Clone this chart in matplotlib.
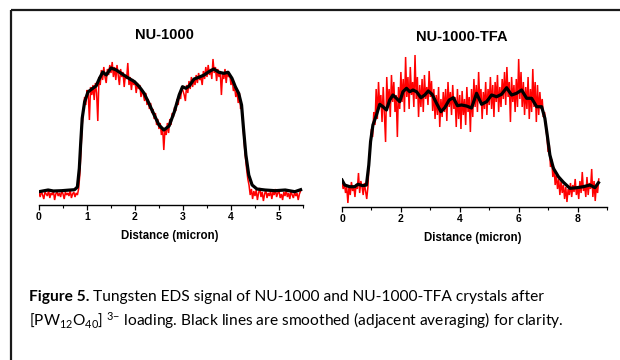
import numpy as np
import matplotlib
matplotlib.use("Agg")
import matplotlib.pyplot as plt
from matplotlib.lines import Line2D
from matplotlib.ticker import MultipleLocator

# ---------------- data (signal in arbitrary units) ----------------
titles = ["NU-1000", "NU-1000-TFA"]
x_label = "Distance (micron)"
left_ticks = [0, 1, 2, 3, 4, 5]
right_ticks = [0, 2, 4, 6, 8]

left_step = 0.025  # micron between raw EDS samples
left_red = [
    12, 8, 14, 10, 6, 13, 11, 9, 15, 7, 12, 10, 14, 5, 11, 13, 9, 12, 8, 14,
    11, 6, 13, 10, 12, 9, 15, 7, 11, 13, 8, 12, 10, 16, 30, 55, 80, 95, 108, 100,
    115, 112, 85, 118, 110, 120, 105, 122, 112, 84, 128, 120, 135, 125, 138, 128, 122, 136, 130, 140,
    132, 143, 128, 138, 125, 140, 130, 120, 136, 128, 133, 118, 130, 126, 142, 120, 128, 115, 126, 120,
    124, 112, 122, 116, 120, 108, 116, 110, 104, 112, 100, 106, 96, 102, 92, 96, 86, 92, 80, 86,
    76, 82, 70, 78, 55, 76, 70, 82, 72, 86, 80, 92, 88, 98, 94, 106, 100, 112, 106, 118,
    114, 110, 104, 120, 112, 124, 116, 128, 118, 126, 120, 130, 122, 132, 125, 128, 120, 134, 126, 138,
    128, 140, 130, 136, 126, 146, 132, 138, 124, 136, 128, 134, 110, 132, 126, 136, 122, 134, 128, 130,
    120, 126, 114, 118, 108, 114, 102, 112, 96, 100, 80, 62, 48, 36, 26, 20, 10, 16, 6, 14,
    9, 15, 5, 12, 17, 8, 13, 4, 11, 15, 7, 12, 9, 14, 6, 13, 10, 16, 8, 12,
    14, 7, 11, 5, 13, 9, 15, 8, 12, 6, 14, 10, 7, 13, 9, 12, 5, 11, 14,
]
left_black_x = [0, 0.1, 0.19, 0.3, 0.47, 0.6, 0.74, 0.80, 0.84, 0.87, 0.90, 0.95, 1.02, 1.12, 1.19,
                1.26, 1.33, 1.40, 1.50, 1.61, 1.71, 1.85, 1.99, 2.09, 2.19, 2.29, 2.40, 2.50,
                2.60, 2.71, 2.82, 2.92, 2.99, 3.06, 3.13, 3.23, 3.33, 3.44, 3.54, 3.64, 3.75,
                3.85, 3.94, 4.02, 4.09, 4.16, 4.22, 4.26, 4.31, 4.37, 4.44, 4.54, 4.71, 4.92,
                5.13, 5.33, 5.45]
left_black_y = [13.3, 14.2, 15, 14, 14.3, 14.8, 15.3, 18, 36.7, 63, 86.7, 103, 113, 116.7, 119,
                126.7, 133, 130, 137, 135, 131.7, 127.3, 123.3, 118.3, 111.7, 101.7, 90, 80,
                75, 79, 93.3, 110, 118.3, 116.7, 119, 126, 127.7, 130, 133.3, 136, 132.7,
                131.7, 132.7, 126.7, 118.3, 111.7, 100, 76.7, 50, 30, 20, 16, 15, 14.3,
                15, 13.3, 15.3]

right_step = 0.04
right_red = [
    26, 18, 24, 14, 20, 4, 22, 12, 25, 16, 21, 10, 23, 18, 34, 14, 26, 20, 12, 24, 16, 8, 20, 45, 62,
    78, 70, 95, 82, 118, 88, 125, 100, 112, 85, 120, 92, 65, 130, 100, 118, 90, 132, 105, 125, 95, 112, 70, 120, 98,
    135, 105, 128, 95, 150, 110, 130, 98, 140, 112, 125, 100, 152, 108, 130, 90, 122, 100, 128, 95, 132, 108, 120, 102, 136,
    110, 126, 96, 118, 88, 112, 92, 120, 80, 108, 90, 115, 95, 118, 86, 125, 100, 115, 92, 122, 98, 110, 80, 118, 88,
    112, 78, 116, 92, 108, 82, 120, 95, 110, 75, 118, 90, 128, 100, 122, 95, 135, 105, 118, 88, 115, 98, 125, 92, 118,
    102, 130, 98, 122, 90, 125, 105, 132, 95, 120, 100, 128, 108, 135, 102, 140, 110, 125, 85, 130, 105, 122, 95, 128, 100,
    148, 108, 135, 100, 125, 92, 120, 98, 130, 88, 118, 95, 138, 100, 125, 85, 122, 92, 115, 98, 108, 90, 95, 80, 70,
    55, 62, 40, 48, 30, 40, 22, 32, 18, 28, 12, 26, 14, 22, 8, 20, 5, 18, 12, 24, 10, 22, 15, 28, 12,
    20, 8, 26, 14, 35, 16, 22, 10, 30, 12, 24, 18, 38, 10, 26, 6, 22, 14, 28,
]
right_black_x = [0, 0.09, 0.26, 0.43, 0.54, 0.71, 0.83, 0.91, 0.97, 1.05, 1.17, 1.28, 1.39, 1.51,
                 1.62, 1.73, 1.85, 1.96, 2.07, 2.19, 2.30, 2.41, 2.53, 2.68, 2.81, 2.93, 3.06,
                 3.21, 3.36, 3.49, 3.64, 3.78, 3.92, 4.06, 4.23, 4.40, 4.57, 4.74, 4.91, 5.08,
                 5.25, 5.42, 5.59, 5.76, 5.93, 6.10, 6.27, 6.44, 6.61, 6.78, 6.89, 6.97, 7.06,
                 7.18, 7.35, 7.52, 7.74, 7.97, 8.20, 8.42, 8.59, 8.71]
right_black_y = [27, 22, 20.3, 20.3, 22.7, 21.3, 22, 42, 65.3, 82, 92, 102.7, 100.3, 97,
                 107, 112, 108.7, 105.3, 115.3, 118.7, 115.3, 117, 115.3, 109.3, 112, 116, 112.7,
                 103.7, 95.3, 99.3, 107, 109.3, 101.3, 102, 101, 99, 113.7, 102.7, 105.3, 112,
                 110.3, 112.7, 119.3, 112, 113.7, 117, 108.7, 108.7, 100.3, 100.3, 88.7, 72, 52,
                 38.7, 30.3, 24.7, 18.7, 19.3, 20.3, 22, 19.3, 24.3]

caption_bold = "Figure 5."
caption_rest = " Tungsten EDS signal of NU-1000 and NU-1000-TFA crystals after"
caption_line2 = r"[PW$_{12}$O$_{40}$] $^{3{-}}$ loading. Black lines are smoothed (adjacent averaging) for clarity."

# ---------------- figure ----------------
plt.rcParams['font.family'] = ['Liberation Sans', 'DejaVu Sans']
plt.rcParams['mathtext.default'] = 'regular'

W, H = 620, 360
fig = plt.figure(figsize=(W / 100, H / 100), dpi=100)
fig.patch.set_facecolor('white')


def fx(px):
    return px / W


def fy(py):
    return 1 - py / H


x_left = np.arange(len(left_red)) * left_step
x_right = np.arange(len(right_red)) * right_step

axL = fig.add_axes([fx(39), fy(205), (303 - 39) / W, 150 / H])
axR = fig.add_axes([fx(342), fy(207), (607 - 342) / W, 160 / H])

axL.plot(x_left, left_red, color='#ff0000', lw=1.1, solid_joinstyle='miter')
axL.plot(left_black_x, left_black_y, color='black', lw=2.3, solid_joinstyle='round')
axL.set_xlim(0, 5.5)
axL.set_ylim(0, 150)
axL.set_xticks(left_ticks)
axL.xaxis.set_minor_locator(MultipleLocator(0.5))

axR.plot(x_right, right_red, color='#ff0000', lw=1.1, solid_joinstyle='miter')
axR.plot(right_black_x, right_black_y, color='black', lw=2.3, solid_joinstyle='round')
axR.set_xlim(0, 9.0)
axR.set_ylim(0, 160)
axR.set_xticks(right_ticks)
axR.xaxis.set_minor_locator(MultipleLocator(1))

for ax in (axL, axR):
    ax.set_facecolor('none')
    for s in ('left', 'right', 'top'):
        ax.spines[s].set_visible(False)
    ax.spines['bottom'].set_linewidth(1.0)
    ax.set_yticks([])
    ax.tick_params(axis='x', which='major', length=3.5, width=0.9, pad=1.5, labelsize=7.5)
    ax.tick_params(axis='x', which='minor', length=2.2, width=0.8)
    for lab in ax.get_xticklabels():
        lab.set_fontweight('bold')

# titles and axis labels
fig.text(fx(164), fy(35), titles[0], ha='center', va='center', fontsize=10.5, fontweight='bold')
fig.text(fx(462), fy(37), titles[1], ha='center', va='center', fontsize=10.5, fontweight='bold')
fig.text(fx(170), fy(236), x_label, ha='center', va='center', fontsize=8.3, fontweight='bold')
fig.text(fx(473), fy(238), x_label, ha='center', va='center', fontsize=8.3, fontweight='bold')

# frame lines
fig.add_artist(Line2D([fx(11), 1.0], [fy(10), fy(10)], transform=fig.transFigure,
                      color='#1a1a1a', lw=1.6, solid_capstyle='butt'))
fig.add_artist(Line2D([fx(11), fx(11)], [fy(10), 0.0], transform=fig.transFigure,
                      color='#1a1a1a', lw=1.6, solid_capstyle='butt'))

# caption
cap_font = ['Lato', 'DejaVu Sans']
cap_size = 11.2
t1 = fig.text(fx(29), fy(301), caption_bold, ha='left', va='baseline',
              fontsize=cap_size, fontweight='bold', family=cap_font)
fig.canvas.draw()
bb = t1.get_window_extent(renderer=fig.canvas.get_renderer())
fig.text(bb.x1 / W, fy(301), caption_rest, ha='left', va='baseline',
         fontsize=cap_size, family=cap_font)
fig.text(fx(29), fy(326), caption_line2, ha='left', va='baseline',
         fontsize=cap_size, family=cap_font)

fig.savefig('out.png', dpi=100)
